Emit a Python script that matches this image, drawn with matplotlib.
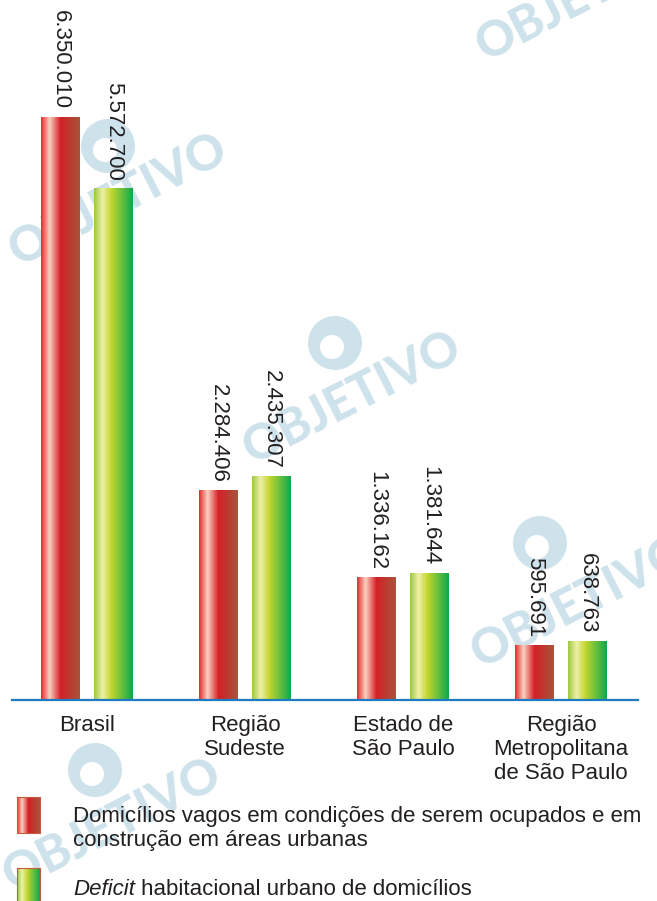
import numpy as np
import matplotlib
matplotlib.use("Agg")
import matplotlib.pyplot as plt
from matplotlib.colors import LinearSegmentedColormap
from matplotlib.patches import Circle

plt.rcParams['font.family'] = ['Liberation Sans', 'DejaVu Sans']

categorias = ["Brasil", "Região\nSudeste", "Estado de\nSão Paulo", "Região\nMetropolitana\nde São Paulo"]
vagos = [6350010, 2284406, 1336162, 595691]
deficit = [5572700, 2435307, 1381644, 638763]
rotulos_vagos = ["6.350.010", "2.284.406", "1.336.162", "595.691"]
rotulos_deficit = ["5.572.700", "2.435.307", "1.381.644", "638.763"]
legenda1 = "Domicílios vagos em condições de serem ocupados e em\nconstrução em áreas urbanas"
legenda2_it = "Deficit"
legenda2 = " habitacional urbano de domicílios"

# gradientes horizontais das barras
cm_red = LinearSegmentedColormap.from_list("r", [(0, "#e42a2c"), (0.22, "#fbd0c0"), (0.5, "#d42026"), (1, "#a6553c")])
cm_green = LinearSegmentedColormap.from_list("g", [(0, "#9cc83c"), (0.22, "#eef0a8"), (0.45, "#c2d62e"), (1, "#0ba84e")])
grad = np.linspace(0, 1, 256).reshape(1, -1)

W, H = 657, 901
fs = 16
fig = plt.figure(figsize=(W / 100, H / 100), dpi=100)

# marca d'agua (fundo)
wm = "#cee2eb"
bg = fig.add_axes([0, 0, 1, 1], zorder=-1)
bg.set_xlim(0, W)
bg.set_ylim(H, 0)
bg.axis("off")
for (px, py), (cx, cy) in [((585, -5), (505, -30)), ((118, 200), (108, 146)), ((352, 398), (335, 343)),
                           ((580, 602), (540, 543)), ((112, 825), (95, 770))]:
    bg.text(px, py, "OBJETIVO", color=wm, fontsize=35, fontweight="black",
            family=["Lato", "DejaVu Sans"], rotation=27, ha="center", va="center")
    bg.add_patch(Circle((cx, cy), 27, color=wm, lw=0))
    bg.add_patch(Circle((cx - 3, cy + 4), 12, color="white", lw=0))

base = 700
ax = fig.add_axes([0, 1 - base / H, 1, base / H])
ax.patch.set_alpha(0)
x0 = 87
dx = 158
ax.axis("off")

x = np.arange(len(categorias))
off = 0.168
wid = 0.243
b1 = ax.bar(x - off, vagos, wid, color="none")
b2 = ax.bar(x + off, deficit, wid, color="none")
for bars, cm in [(b1, cm_red), (b2, cm_green)]:
    for r in bars:
        ax.imshow(grad, cmap=cm, aspect="auto", zorder=2,
                  extent=(r.get_x(), r.get_x() + r.get_width(), 0, r.get_height()))
ax.set_xlim(-x0 / dx, (W - x0) / dx)
ax.set_ylim(0, 6350010 * base / 583)

for i in range(len(x)):
    ax.annotate(rotulos_vagos[i], (x[i] - off, vagos[i]), xytext=(0, 5.5), textcoords="offset points",
                rotation=270, ha="center", va="bottom", fontsize=fs, color="#231f20")
    ax.annotate(rotulos_deficit[i], (x[i] + off, deficit[i]), xytext=(0, 5.5), textcoords="offset points",
                rotation=270, ha="center", va="bottom", fontsize=fs, color="#231f20")
    ax.annotate(categorias[i], (x[i], 0), xytext=(0, -10.5), textcoords="offset points",
                ha="center", va="top", fontsize=fs, color="#231f20", linespacing=1.2,
                annotation_clip=False)

ax.axhline(0, xmin=12 / W, xmax=638 / W, color="#1f7bc1", lw=1.6, zorder=3, clip_on=False)

# legenda
lg = fig.add_axes([0, 0, 1, 1])
lg.patch.set_alpha(0)
lg.axis("off")
for (y0, y1), cm in [((797, 833), cm_red), ((868, 905), cm_green)]:
    lg.imshow(grad, cmap=cm, aspect="auto", extent=(17, 40, y1, y0), zorder=2)
    lg.plot([17, 40, 40, 17, 17], [y0, y0, y1, y1, y0], color="#c85a3c", lw=0.8, zorder=3)
lg.set_xlim(0, W)
lg.set_ylim(H, 0)
lg.text(73, 806, legenda1, fontsize=fs, va="top", ha="left", color="#231f20", linespacing=1.2)
t = lg.text(73, 895, legenda2_it, fontsize=fs, fontstyle="italic", va="baseline", ha="left", color="#231f20")
lg.annotate(legenda2, xy=(1, 0), xycoords=t, va="bottom", ha="left", fontsize=fs, color="#231f20")

fig.savefig("out.png", dpi=100)
